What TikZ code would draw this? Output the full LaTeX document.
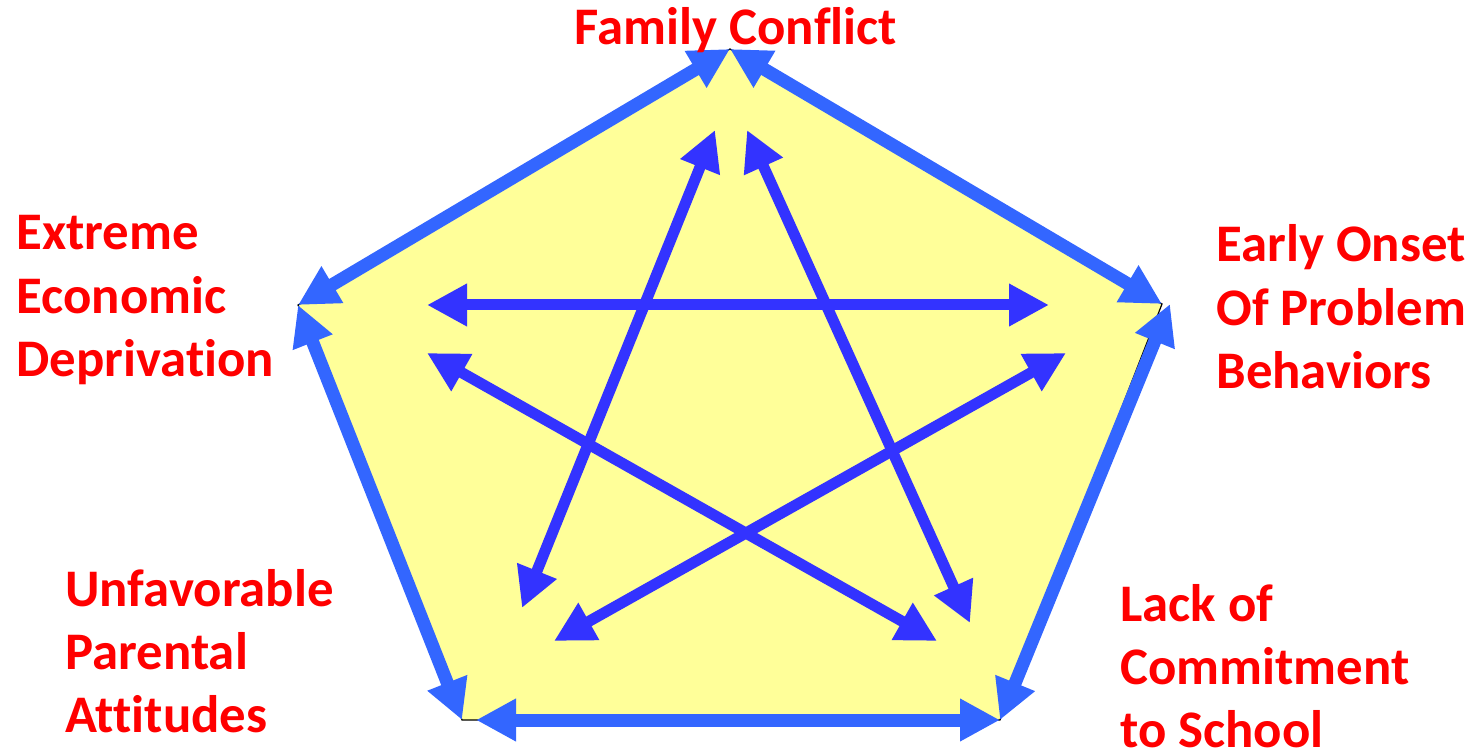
\documentclass[tikz,border=0pt]{standalone}
\usepackage{fontspec}
\setmainfont{Carlito}[Ligatures=NoCommon]
\usetikzlibrary{arrows.meta}
\definecolor{cpent}{RGB}{255,255,153}
\definecolor{cedge}{RGB}{51,102,255}
\definecolor{cstar}{RGB}{51,51,255}
\definecolor{clbl}{RGB}{255,0,0}

\begin{document}
\begin{tikzpicture}[x=0.5pt,y=-0.5pt,>={Triangle[length=20pt,width=20pt]},
  edge/.style={<->,draw=cedge,line width=6.5pt},
  star/.style={<->,draw=cstar,line width=5.5pt},
  lbl/.style={anchor=base west,align=left,inner sep=0pt,text=clbl,
              font=\bfseries\fontsize{26.4}{31.5}\selectfont}]
\useasboundingbox (0,0) rectangle (1476,753);
% corners of the pentagon
\coordinate (top) at (730,49);
\coordinate (rt)  at (1162,304);
\coordinate (br)  at (1000,720);
\coordinate (bl)  at (462,720);
\coordinate (lt)  at (298,305);
\filldraw[fill=cpent,draw=black,line width=0.6pt]
  (top) -- (rt) -- (br) -- (bl) -- (lt) -- cycle;
% ends of the star
\coordinate (t1)  at (715,130);   \coordinate (t2)  at (747,130);
\coordinate (l1)  at (427,305);   \coordinate (l2)  at (427,353);
\coordinate (r1)  at (1049,305);  \coordinate (r2)  at (1066,353);
\coordinate (b1)  at (522,608);   \coordinate (b2)  at (554,641);
\coordinate (c1)  at (970,623);   \coordinate (c2)  at (937,641);
\draw[star] (t1) -- (b1);
\draw[star] (t2) -- (c1);
\draw[star] (l1) -- (r1);
\draw[star] (l2) -- (c2);
\draw[star] (r2) -- (b2);
% sides
\draw[edge] (top) -- (lt);
\draw[edge] (top) -- (rt);
\draw[edge] (lt) -- (bl);
\draw[edge] ([xshift=4]rt) -- (br);
\draw[edge] ([xshift=7]bl) -- (br);
% labels (base = last line)
\node (fam)   [lbl,anchor=base] at (736,45) {Family Conflict};
\node (eco)   [lbl] at (16,376)   {Extreme\\ Economic\\ Deprivation};
\node (early) [lbl] at (1216,388) {Early Onset\\ Of Problem\\ Behaviors};
\node (unfav) [lbl] at (65,732)   {Unfavorable\\ Parental\\ Attitudes};
\node (lack)  [lbl] at (1120,747) {Lack of\\ Commitment\\ to School};
\end{tikzpicture}
\end{document}
